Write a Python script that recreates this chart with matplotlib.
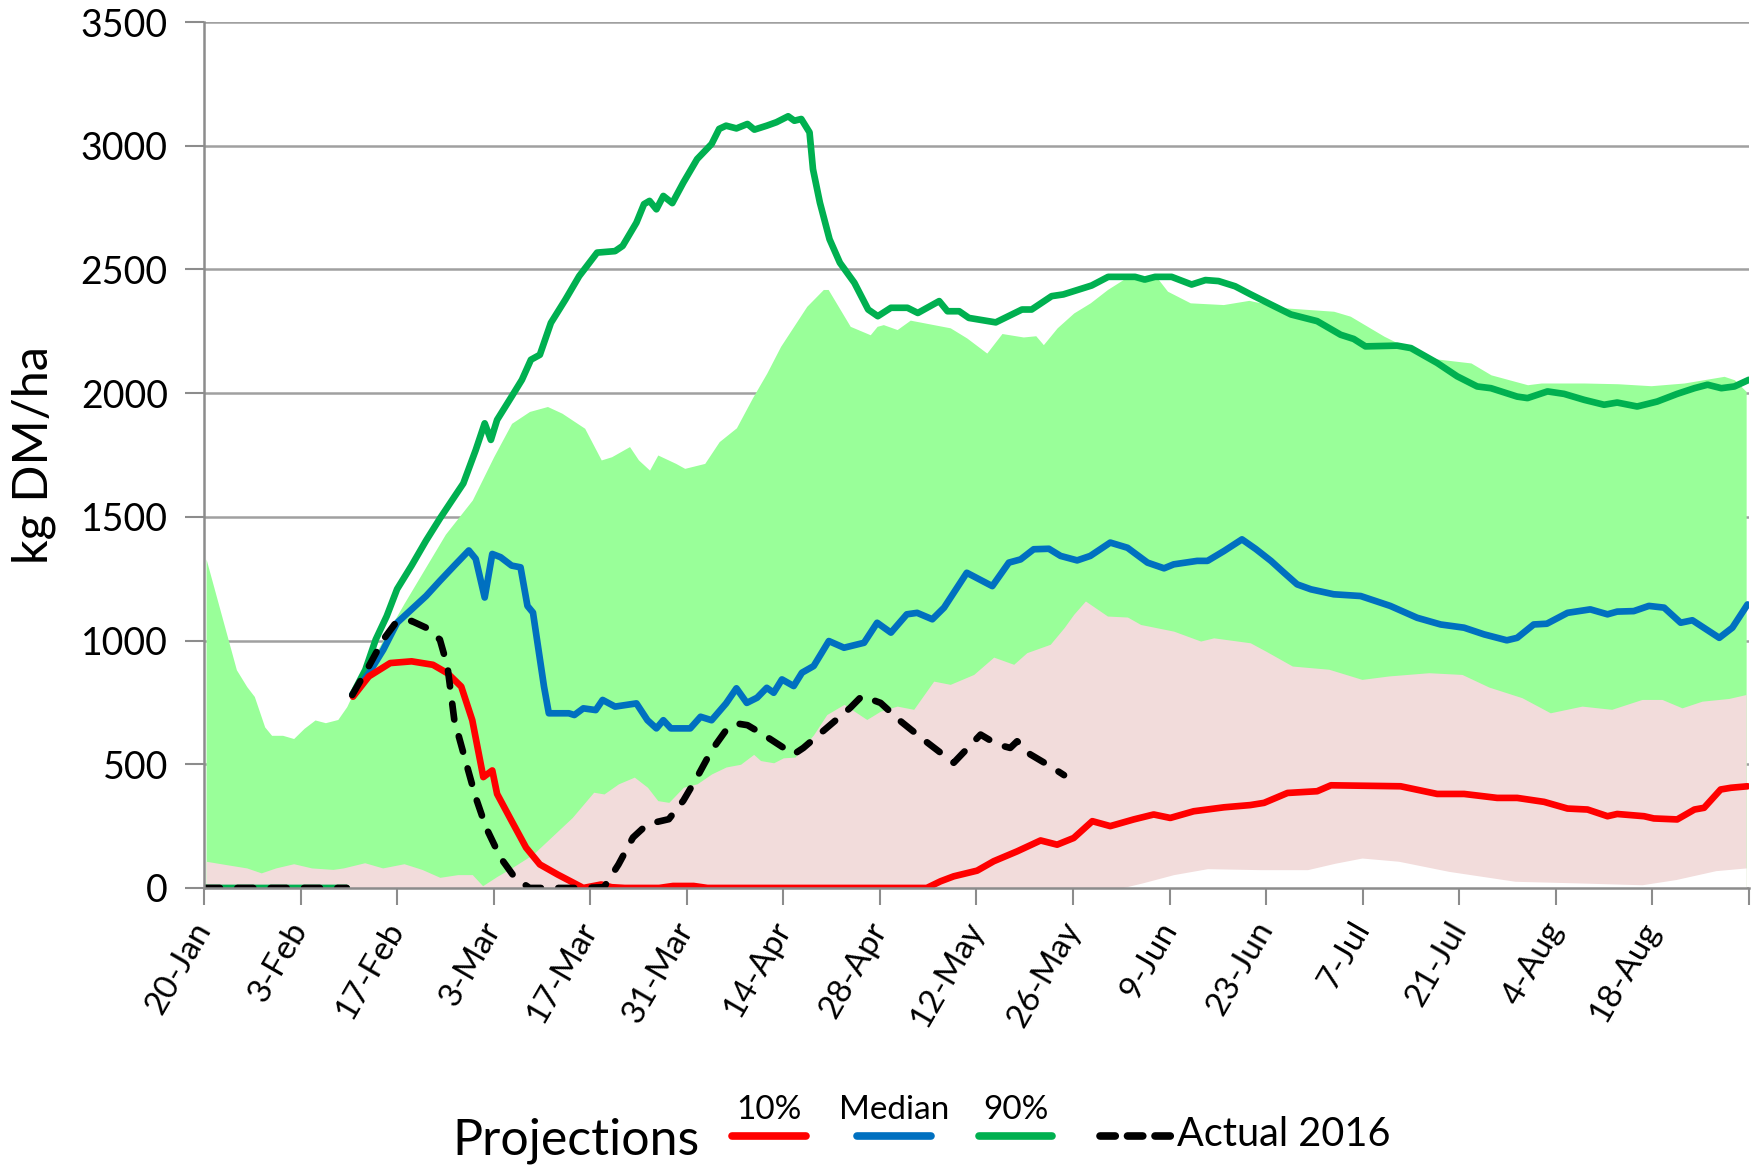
import matplotlib
matplotlib.use("Agg")
import matplotlib.pyplot as plt
from matplotlib.lines import Line2D
import numpy as np

plt.rcParams['font.family'] = ['Lato', 'DejaVu Sans']

# x axis: days after 20-Jan, ticks every 14 days
tick_days = np.arange(0, 225, 14)
tick_labels = ['20-Jan', '3-Feb', '17-Feb', '3-Mar', '17-Mar', '31-Mar', '14-Apr',
               '28-Apr', '12-May', '26-May', '9-Jun', '23-Jun', '7-Jul', '21-Jul',
               '4-Aug', '18-Aug', '']

# upper edge of the light green band
band_hi_days = [0.3, 3.1, 4.7, 6.2, 7.3, 8.8, 9.8, 11.4, 13, 14.5, 16.1, 17.6, 19.4, 20.7,
                22.3, 23.8, 26, 29, 32, 35, 38.9, 42, 44.6, 47.2, 49.8, 51.9, 55.2, 57.6,
                59.1, 61.7, 63, 64.6, 65.8, 68.4, 69.7, 72.6, 74.7, 77.2, 79.5, 81.6, 83.6,
                87.4, 89.8, 90.5, 93.7, 96.6, 97.6, 98.5, 100.5, 102.4, 108.2, 110.6, 113.5,
                115.7, 118.8, 120.6, 121.7, 123.7, 126.1, 128.5, 131, 133.9, 138.2, 139.7,
                143, 147.8, 151.5, 156.6, 163.8, 166.2, 171.1, 175, 178.8, 183.7, 186.6,
                191.9, 193.9, 200.1, 205, 209.8, 214.6, 220.4, 221.9, 223.6]
band_hi = [1330, 1045, 882, 814, 774, 651, 617, 617, 604, 645, 679, 668, 681, 733,
           828, 896, 1004, 1150, 1290, 1430, 1568, 1743, 1878, 1926, 1946, 1919, 1858, 1730,
           1743, 1784, 1730, 1689, 1750, 1716, 1696, 1716, 1804, 1860, 1980, 2081, 2189,
           2351, 2419, 2419, 2270, 2236, 2270, 2277, 2257, 2295, 2264, 2223, 2162,
           2241, 2227, 2232, 2196, 2264, 2324, 2365, 2419, 2470, 2466, 2412,
           2365, 2358, 2375, 2345, 2331, 2311, 2230, 2176, 2138, 2122, 2074,
           2034, 2041, 2041, 2038, 2030, 2041, 2068, 2054, 2007]

# boundary between pink and green bands
band_mid_days = [0.3, 3.1, 6.2, 8.3, 10.4, 13, 15.6, 18.7, 20.2, 23.3, 25.9, 29, 31.6, 34.2,
                 36.8, 38.9, 40.4, 42.5, 44.6, 47.7, 50.8, 53.4, 56.5, 58, 60.1, 62.4, 64.3,
                 65.8, 67.4, 69.5, 71.5, 73.6, 75.7, 77.8, 79.7, 80.7, 82.6, 84, 85.7, 88.4,
                 90.3, 92.8, 96.1, 98.1, 100.5, 102.9, 105.8, 108.2, 111.6, 114.5, 117.4,
                 119.3, 122.7, 124.7, 126.1, 127.8, 131, 133.9, 135.8, 140.6, 144.5, 146.4,
                 151.7, 153.9, 157.8, 163.1, 167.9, 171.8, 177.6, 182.4, 186.3, 191.1, 195.2,
                 199.8, 204.1, 208.5, 211.4, 214.3, 217.2, 221.1, 223.6]
band_mid = [108, 95, 81, 61, 81, 98, 81, 75, 81, 102, 81, 98, 75, 43,
            54, 54, 9, 47, 81, 136, 217, 285, 387, 380, 421, 448, 407,
            353, 346, 407, 421, 461, 489, 500, 540, 515, 506, 526, 529, 620,
            701, 742, 681, 715, 735, 722, 836, 823, 863, 933, 904,
            951, 985, 1052, 1106, 1160, 1099, 1095, 1065, 1038, 998, 1011,
            991, 958, 897, 884, 843, 857, 870, 863, 812, 769, 708,
            735, 722, 762, 762, 728, 755, 766, 782]

# lower edge of the pink band
band_lo_days = [0, 133, 136, 140.6, 145.5, 153.2, 160, 164, 167.9, 173.2, 180.5, 190.1,
                199.8, 208.5, 213.4, 219.2, 223.6]
band_lo = [0, 0, 20, 54, 78, 74, 74, 100, 121, 108, 67, 27, 20, 13, 34, 70, 81]

p90_days = [0, 20.7, 21.0,
            21.5, 23.4, 24.9, 26.5, 28, 30.1, 32.2, 34.2, 35.8, 37.6, 39.4, 40.7, 41.6, 42.5,
            44.6, 46.1, 47.4, 48.7, 50.3, 52.4, 54.4, 57, 59.6, 60.7, 62.7, 63.8, 64.6,
            65.6, 66.6, 67.9, 69.5, 71.5, 73.6, 74.7, 75.7, 77.2, 78.8, 79.8, 81.6, 83,
            84.7, 85.6, 86.6, 87.8, 88.3, 89.3, 90.7, 92.2, 94.3, 96.3, 97.7, 99.6, 102,
            103.5, 106.6, 107.8, 109.5, 110.9, 114.8, 118.6, 120, 122.9, 124.6, 128.7,
            131.1, 135, 136.4, 137.9, 140.3, 143.2, 145.2, 147.1, 149.5, 151.7, 154.7,
            157.6, 161.4, 164.8, 166.7, 168.4, 173, 175, 178.8, 181.7, 184.6, 186.6,
            190.4, 191.9, 194.8, 197.2, 200.1, 203, 204.9, 207.8, 210.7, 213.6, 216.1,
            218, 220, 221.9, 224]
p90 = [0, 0, np.nan,
       780, 882, 1004, 1099, 1208, 1303, 1404, 1493, 1560, 1635, 1770, 1878, 1811, 1892,
       1986, 2054, 2135, 2155, 2284, 2378, 2473, 2568, 2574, 2595, 2689, 2764, 2777,
       2743, 2797, 2768, 2851, 2946, 3007, 3068, 3081, 3070, 3088, 3065, 3081, 3095,
       3119, 3101, 3108, 3054, 2905, 2770, 2622, 2527, 2446, 2338, 2311, 2345, 2345,
       2324, 2372, 2331, 2331, 2304, 2286, 2338, 2338, 2392, 2399, 2435,
       2470, 2470, 2459, 2470, 2470, 2439, 2457, 2453, 2432, 2400, 2358,
       2318, 2291, 2236, 2219, 2189, 2192, 2182, 2122, 2068, 2027, 2020,
       1986, 1980, 2007, 1997, 1973, 1953, 1962, 1946, 1966, 1997, 2020,
       2034, 2020, 2027, 2054]

median_days = [21.5, 23.9, 26, 28, 30.1, 32.2, 34.2, 36.3, 38.4, 39.4, 40.7, 41.8, 43, 44.6,
               45.9, 46.9, 47.7, 49.3, 50, 52.9, 53.7, 55, 56.8, 57.8, 59.6, 62.7, 64.3,
               65.6, 66.6, 67.7, 70.5, 72, 73.6, 75.7, 77.2, 78.7, 80.2, 81.6, 82.6, 83.8,
               85.5, 86.7, 88.4, 90.6, 92.8, 95.7, 97.6, 99.6, 101.9, 103.4, 105.6, 107.3,
               110.6, 114.3, 116.7, 118.4, 120.3, 122.5, 124.2, 126.6, 128.5, 131.4, 133.9,
               136.8, 139.2, 140.6, 144, 145.5, 147.9, 150.5, 152.5, 154.7, 156.6, 158.5,
               160.5, 163.8, 167.7, 172, 175.9, 179.3, 182.7, 185.6, 188.9, 190.4, 192.8,
               194.7, 197.7, 201, 203.5, 204.9, 207.3, 209.5, 211.7, 214.1, 215.8, 219.7,
               221.6, 223.8]
median = [780, 868, 963, 1072, 1126, 1180, 1241, 1303, 1364, 1330, 1174, 1350, 1337, 1303,
          1296, 1140, 1113, 814, 706, 706, 699, 726, 719, 760, 733, 746, 678,
          645, 678, 645, 645, 692, 678, 746, 807, 748, 769, 809, 789, 843,
          816, 870, 897, 998, 971, 991, 1072, 1032, 1106, 1112, 1086, 1133,
          1274, 1220, 1315, 1328, 1369, 1371, 1342, 1324, 1342, 1396, 1375,
          1315, 1292, 1308, 1322, 1322, 1362, 1409, 1370, 1322, 1274, 1227,
          1207, 1187, 1180, 1140, 1092, 1065, 1052, 1025, 1001, 1011, 1065,
          1068, 1112, 1126, 1106, 1117, 1119, 1140, 1133, 1072, 1082, 1011,
          1052, 1146]

p10_days = [21.6, 23.9, 27, 30.1, 33.2, 35.3, 37.3, 38.9, 40.5, 41.8, 42.5, 44.6, 46.7, 48.7,
            51.3, 55, 57.6, 59.1, 61, 66, 68, 71, 73, 104.8, 106.8, 108.7, 112.1, 114.5,
            117.9, 121.3, 123.7, 126.1, 128.8, 131.4, 134.8, 137.7, 140.1, 143.5, 147.9,
            151.7, 153.7, 157.1, 161.4, 163.4, 173.5, 178.8, 182.7, 187.5, 190.4, 194.3,
            197.7, 200.6, 203.5, 204.9, 208.8, 210.2, 213.6, 216.1, 217.5, 219.9, 221.4,
            223.8]
p10 = [773, 855, 909, 916, 902, 868, 814, 678, 448, 475, 380, 271, 163, 95,
       54, 0, 14, 3, 0, 0, 8, 8, 0, 0, 27, 47, 70, 108,
       148, 192, 175, 202, 270, 250, 277, 297, 283, 310, 326,
       335, 344, 384, 391, 415, 411, 380, 380, 364, 364, 348,
       321, 317, 290, 299, 290, 281, 277, 317, 324, 398, 405,
       411]

actual_days = [0, 20.7, 21.0,
               21.5, 23.9, 26, 27.8, 30.1, 32.2, 34.2, 35.3, 36.3, 37.9, 39.4, 40.9, 43,
               45.1, 47.2, 55, 58, 60.1, 62.2, 64.3, 67.4, 69.5, 71.5, 73.6, 75.7, 77.2,
               78.8, 81.1, 85.5, 86.9, 90.3, 93.7, 95.4, 98.1, 101, 104.3, 108.7, 112.6,
               115, 116.9, 117.9, 119.8, 122.7, 124.7]
actual_2016 = [0, 0, np.nan,
               780, 896, 1004, 1072, 1079, 1052, 1004, 896, 678, 516, 366, 244, 122,
               41, 0, 0, 3, 95, 204, 258, 278, 353, 448, 556, 638, 665,
               658, 620, 540, 566, 647, 728, 776, 748, 674, 600, 506, 620,
               580, 566, 593, 540, 492, 456]

GREEN_FILL = '#99FF99'
PINK_FILL = '#F2DCDB'
C90 = '#00B050'
CMED = '#0070C0'
C10 = '#FF0000'
LW = 4.8

fig = plt.figure(figsize=(17.6, 11.65), dpi=100)
ax = fig.add_axes([0.1159, 0.2378, 0.8778, 0.7433])

# stacked bands: green, then pink over it, then white bottom
ax.fill_between(band_hi_days, 0, band_hi, color=GREEN_FILL, lw=0, zorder=1)
ax.fill_between(band_mid_days, 0, band_mid, color=PINK_FILL, lw=0, zorder=1.1)
ax.fill_between(band_lo_days, 0, band_lo, color='white', lw=0, zorder=1.2)

ax.plot(p90_days, p90, color=C90, lw=LW, zorder=3, solid_capstyle='round')
ax.plot(median_days, median, color=CMED, lw=LW, zorder=3, solid_capstyle='round')
ax.plot(p10_days, p10, color=C10, lw=LW, zorder=3, solid_capstyle='round')
ax.plot(actual_days, actual_2016, color='black', lw=LW, ls=(0, (2.4, 2.6)),
        dash_capstyle='round', zorder=4)

ax.set_xlim(0, 224)
ax.set_ylim(0, 3500)
ax.set_yticks(np.arange(0, 3501, 500))
ax.set_xticks(tick_days)
ax.set_xticklabels(tick_labels, rotation=60, ha='right', va='center',
                   rotation_mode='anchor', fontsize=24)
ax.tick_params(axis='y', labelsize=27, length=14, width=1.5, color='#8C8C8C', pad=12)
ax.tick_params(axis='x', length=12, width=1.5, color='#8C8C8C', pad=14)

ax.set_axisbelow(True)
ax.grid(axis='y', color='#A0A0A0', lw=1.8)
ax.grid(axis='x', visible=False)
for side in ['top', 'right']:
    ax.spines[side].set_visible(False)
for side in ['left', 'bottom']:
    ax.spines[side].set_color('#8C8C8C')
    ax.spines[side].set_linewidth(1.8)
    ax.spines[side].set_zorder(5)

fig.text(0.019, 0.6095, 'kg DM/ha', rotation=90, ha='center', va='center', fontsize=35)

# legend drawn by hand: labels above the handles
fig.text(0.327, 0.021, 'Projections', ha='center', va='center', fontsize=36)
leg_y = 0.0245
for (x0, x1, col, lab) in [(0.416, 0.458, C10, '10%'),
                           (0.487, 0.529, CMED, 'Median'),
                           (0.556, 0.598, C90, '90%')]:
    fig.add_artist(Line2D([x0, x1], [leg_y, leg_y], color=col, lw=5.5,
                          solid_capstyle='round', transform=fig.transFigure))
    fig.text((x0 + x1) / 2, 0.0475, lab, ha='center', va='center', fontsize=24)
fig.add_artist(Line2D([0.625, 0.6665], [leg_y, leg_y], color='black', lw=5.5,
                      ls=(0, (2.0, 1.6)), dash_capstyle='round',
                      transform=fig.transFigure))
fig.text(0.6685, 0.026, 'Actual 2016', ha='left', va='center', fontsize=28.5)

fig.savefig('out.png', dpi=100)
